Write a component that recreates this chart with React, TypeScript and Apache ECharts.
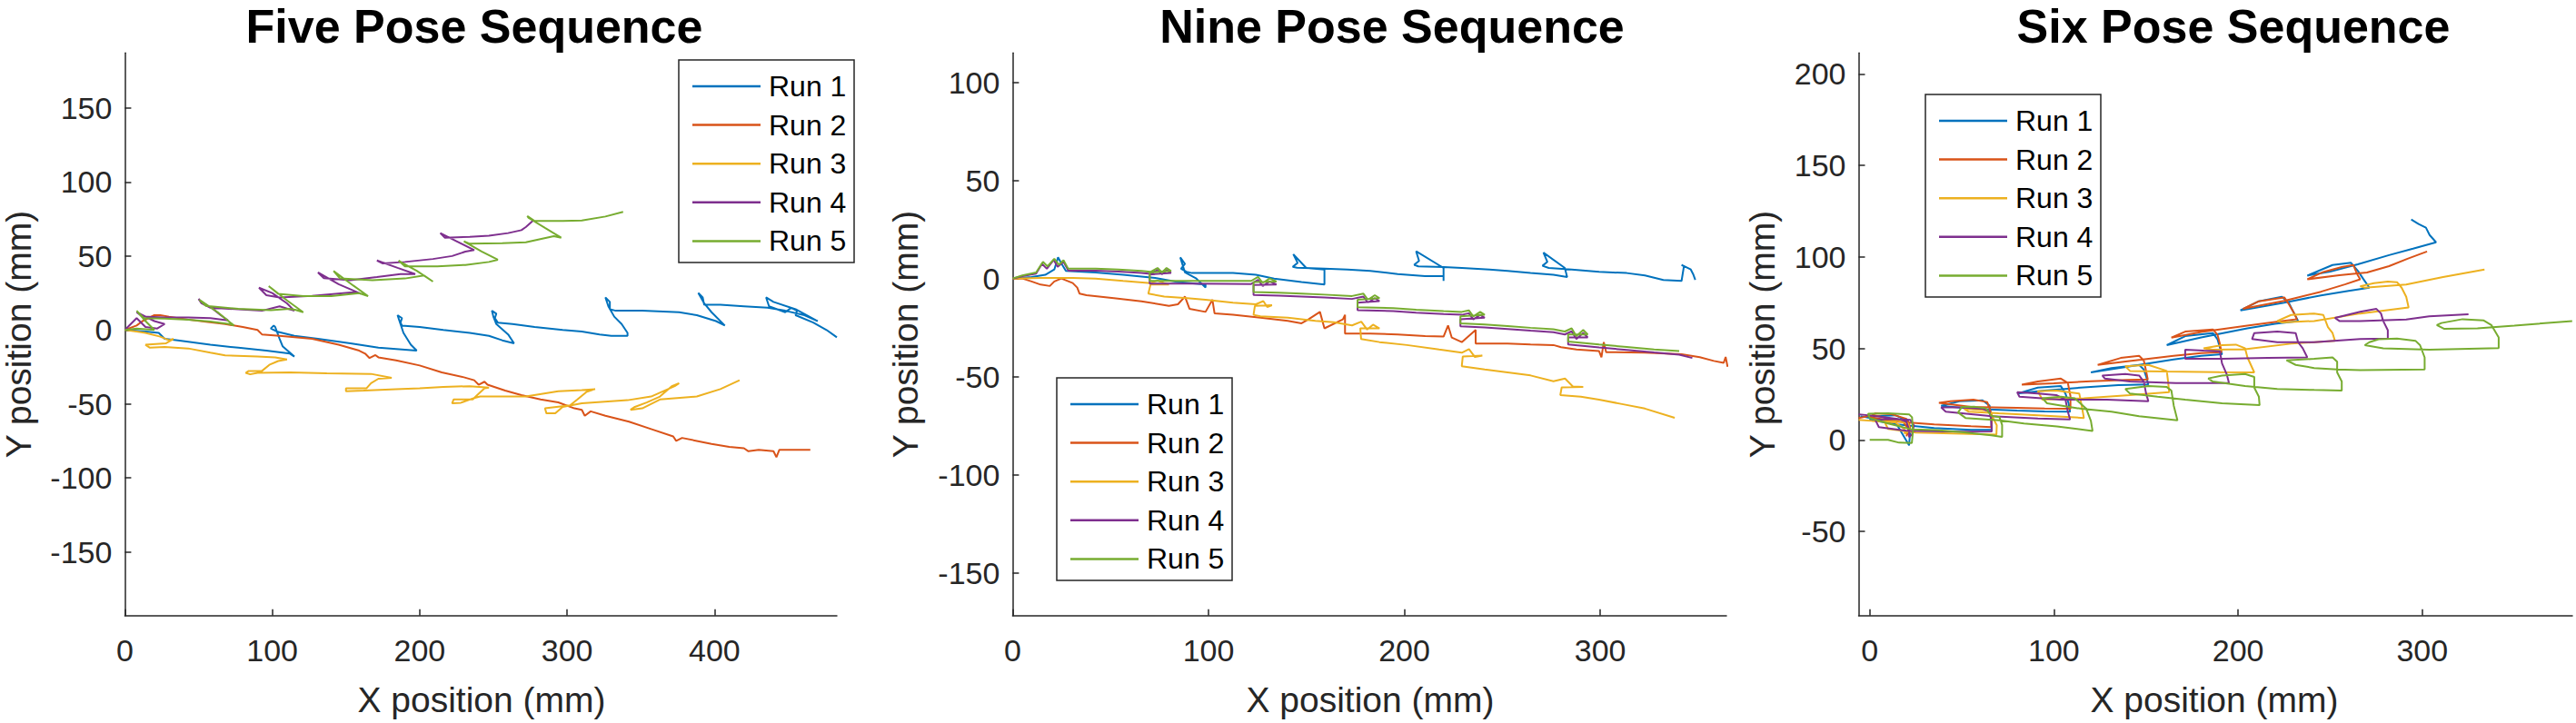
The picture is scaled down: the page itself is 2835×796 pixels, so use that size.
import React, { useEffect, useRef } from 'react';
import * as echarts from 'echarts';

// ---------------- data ----------------
const RUN_NAMES = ['Run 1', 'Run 2', 'Run 3', 'Run 4', 'Run 5'];
const RUN_COLORS = ['#0072BD', '#D95319', '#EDB120', '#7E2F8E', '#77AC30'];
const PANEL_TITLES = ['Five Pose Sequence', 'Nine Pose Sequence', 'Six Pose Sequence'];
const X_NAME = 'X position (mm)';
const Y_NAME = 'Y position (mm)';

const FIVE_X_TICKS = [0, 100, 200, 300, 400];
const FIVE_Y_TICKS = [-150, -100, -50, 0, 50, 100, 150];
const NINE_X_TICKS = [0, 100, 200, 300];
const NINE_Y_TICKS = [-150, -100, -50, 0, 50, 100];
const SIX_X_TICKS = [0, 100, 200, 300];
const SIX_Y_TICKS = [-50, 0, 50, 100, 150, 200];

const FIVE_X_RANGE = [0, 483];
const FIVE_Y_RANGE = [-193.1, 187.3];
const NINE_X_RANGE = [0, 364.4];
const NINE_Y_RANGE = [-171.8, 115];
const SIX_X_RANGE = [-6, 381.5];
const SIX_Y_RANGE = [-96, 211.5];

const FIVE_RUN1 = [
  [0, 0], [14, -1], [23, -2], [27, -6], [36, -7], [58, -10], [77, -12], [96, -14], [112, -16], [115, -18],
  [107, -11], [105, -6], [102, 2], [101, 3], [99, 1], [103, -1], [115, -4], [131, -6], [153, -9], [172, -12], [198, -14],
  [194, -10], [189, -2], [186, 7], [185, 10], [188, 8], [187, 5], [188, 3], [200, 2], [216, 0], [234, -2], [247, -4], [256, -7], [264, -9],
  [260, -3], [252, 4], [250, 9], [249, 13], [252, 11], [251, 8], [253, 5], [263, 4], [278, 2], [297, 0], [310, -1], [322, -3], [330, -4], [341, -4],
  [341, -2], [337, 4], [332, 9], [328, 16], [326, 22], [329, 19], [329, 14], [333, 13], [351, 13], [376, 12], [388, 10], [401, 6], [407, 3],
  [398, 12], [393, 18], [389, 25], [392, 22], [393, 17], [404, 17], [420, 16], [436, 15], [448, 13], [461, 10], [470, 6],
  [455, 14], [440, 19], [435, 22], [437, 16], [448, 12], [452, 15], [456, 13], [455, 10], [467, 5], [476, 0], [483, -5],
];
const FIVE_RUN2 = [
  [0, 0], [8, 3], [12, 6], [20, 10], [24, 10], [30, 9], [43, 7], [55, 5.5], [68, 4], [80, 2], [90, 0], [93, -3], [105, -4],
  [127, -6], [145, -10], [159, -14], [163, -16], [166, -19], [170, -17], [172, -18.5], [184, -20.5], [200, -24], [215, -28.7],
  [230, -32], [237, -34], [240, -37], [244, -35], [246, -37], [258, -41], [269, -44], [282, -47], [294, -49], [305, -53],
  [310, -54], [312, -58], [316, -55], [326, -58], [342, -62], [357, -67], [372, -72], [374, -75], [378, -73], [388, -75],
  [398, -77], [410, -79], [420, -80], [423, -82], [430, -81], [440, -82], [442, -86], [444, -81], [455, -81], [465, -81],
];
const FIVE_RUN3 = [
  [0, 0], [8, -1], [14, -2], [24, -4.5], [30, -7], [33, -6], [28, -9], [14, -10], [17, -12], [27, -11.5], [43, -12.5],
  [58, -15.4], [68, -17.2], [90, -17.9], [102, -18.5], [110, -20], [104, -21], [98, -23.6], [93, -27.7], [84, -27.7],
  [82, -29], [85, -30], [90, -29], [112, -28.7], [137, -29.3], [167, -29.7], [181, -32.4], [172, -33], [167, -36],
  [164, -39.4], [150, -39.4], [150, -41.4], [162, -41], [184, -40], [200, -39.4], [216, -38.5], [234, -38], [247, -39],
  [244, -39.4], [239, -44], [236, -47], [223, -47], [222, -49.6], [228, -49.2], [237, -46], [241, -45], [272, -45],
  [294, -41.4], [310, -40.6], [319, -40], [313, -42], [307, -47], [302, -51], [285, -53], [286, -56.4], [292, -56.4],
  [297, -52], [310, -49.6], [341, -47.5], [357, -45], [373, -38], [376, -36], [371, -38], [363, -45], [354, -49],
  [346, -52], [343, -54], [351, -53], [363, -47], [388, -45], [404, -40], [417, -34],
];
const FIVE_RUN4 = [
  [0, 0], [8, 8], [14, 2], [22, 1], [27, 4], [20, 6], [8, 12], [12, 9], [27, 8.5], [43, 8.5], [58, 8], [70, 6.5],
  [65, 10], [60, 14], [52, 19], [50, 21], [52, 18], [58, 15], [77, 14], [93, 13], [105, 16], [115, 13], [110, 18],
  [100, 25], [91, 28.6], [96, 23.5], [105, 22], [127, 23], [143, 24.5], [155, 25.5], [160, 24.5], [145, 31], [131, 38.9],
  [135, 35], [153, 33.7], [171, 35.8], [187, 37.8], [197, 37.8], [185, 42], [171, 47], [175, 45], [190, 46], [209, 48],
  [222, 50], [231, 53], [237, 54], [225, 60], [214, 65.5], [217, 62.4], [234, 63], [247, 63.8], [260, 65.5], [269, 67.5],
  [272, 69.6], [277, 74],
];
const FIVE_RUN5 = [
  [0, 0], [8, 1], [20, 0], [14, 6], [8, 13], [10, 11], [13, 8], [27, 7.7], [43, 7], [58, 5.7], [71, 4], [74, 3], [63, 12],
  [52, 19.4], [50.5, 20.4], [55, 16.3], [77, 14.3], [99, 13.3], [112, 14.3], [116, 13.5], [121, 12], [110, 20], [99, 28.6],
  [97.6, 29.6], [104, 24.5], [121, 22.9], [140, 22.9], [159, 24.9], [165, 22.9], [155, 30], [143, 38.9], [141.6, 39.9],
  [146, 34.8], [168, 33.7], [190, 34.8], [203, 36.8], [209, 32.7], [198, 40], [187, 46], [185.7, 47], [190, 43], [212, 43],
  [231, 44], [247, 46], [253, 47.5], [242, 53], [231, 59.3], [230, 60], [234, 58.3], [256, 58.7], [272, 59.3], [291, 63.4],
  [296, 62.4], [285, 69], [274, 75.7], [273, 77], [278, 73.7], [297, 73.7], [310, 74], [326, 76.7], [338, 79.8],
];

const NINE_RUN1 = [
  [0, 0], [9.7, 0.8], [16.7, 1.9], [21.3, 4.6], [23.2, 10.8], [24.9, 7.7], [27.2, 3.9], [42.4, 3.1], [56.4, 1.9],
  [72.8, 0.3], [84.4, -1.8], [98.5, -3.1], [98.5, -4.6], [93.8, 0], [88, 3.1], [85.6, 10.8], [88, 7.5], [86, 5],
  [88.7, 3.5], [91.5, 2.8], [112.5, 2.8], [124.2, 1.9], [133.5, 0], [147.5, -1.8], [159.2, -3.1], [159.2, 4.6],
  [149.9, 5.4], [143.3, 12.4], [145.5, 8], [143, 6], [145.2, 5.5], [159.2, 5], [170.9, 4.6], [182.6, 3.9], [196.6, 2.3],
  [210.6, 1.2], [220, 1.2], [220, -1.2], [220, 5.4], [206, 13.9], [207.5, 9], [205, 7], [207.1, 6.2], [220, 5.9],
  [229.3, 5.4], [243.4, 4.6], [252.7, 3.9], [264.4, 2.8], [276.1, 1.9], [283.1, 0.8], [281.9, 5.4], [271, 13.2],
  [273, 8.5], [270.5, 6.5], [273.7, 5.4], [285.4, 4.6], [299.4, 3.4], [313.5, 2.8], [322.8, 1.6], [332.2, -0.7],
  [341.5, -1.2], [342.7, 6.2], [341.5, 7], [346.2, 4.6], [347.4, 2.3], [348.5, -0.7],
];
const NINE_RUN2 = [
  [0, 0], [5, 0], [9.7, -1.5], [14.3, -3.1], [19, -3.8], [21.3, -1.5], [24.9, 0], [30.7, -2.3], [33, -4.6], [34.2, -7.7],
  [37.7, -8.5], [51.7, -10], [65.8, -11.6], [79.8, -13.9], [84.4, -13.1], [88, -9.2], [90.3, -15.4], [98.5, -17],
  [102, -10.8], [103.1, -17.7], [112.5, -18.5], [126.5, -20], [140.5, -21.6], [147.5, -22.8], [151, -20.8], [156.9, -17],
  [159.2, -25.4], [168.6, -20.8], [169.7, -18.5], [169.7, -28.1], [182.6, -28.1], [196.6, -28.5], [210.6, -29.3],
  [220, -29.6], [222.3, -23.9], [224.2, -30.1], [229.3, -32.4], [236.4, -26.2], [236.4, -33.2], [252.7, -33.2],
  [264.4, -33.6], [276.1, -33.9], [280, -35], [287.8, -36.2], [299.4, -37], [300.6, -40.1], [301.8, -32.4], [303, -37.5],
  [322.8, -37.8], [341.5, -38.6], [350.8, -40.1], [358, -42], [363, -43], [364, -40], [365, -45],
];
const NINE_RUN3 = [
  [0, 0], [14.3, 0.3], [30.7, 0.3], [42.4, 0], [56.4, -1.2], [70.4, -2.3], [74, -1], [77.4, -2.3], [79.8, -3.1],
  [70.4, -3.1], [69.3, -7.7], [77.4, -9.2], [89.1, -10], [98.5, -10.8], [112.5, -12.3], [124.2, -13.1], [128, -11.5],
  [130, -14.5], [132.4, -13.6], [123.7, -13.9], [123, -18.5], [126.5, -19.3], [140.5, -20], [154.6, -21.6],
  [163.9, -22.3], [173.3, -23.9], [178, -22], [181, -26], [184, -23.5], [187.3, -25.4], [177.5, -25.4], [177.9, -30.8],
  [187.3, -32.4], [201.3, -33.9], [217.7, -36.2], [229.3, -37.8], [233, -36], [236, -40], [239.8, -39.3], [229.8, -39.8],
  [229.3, -44.7], [241, -46.3], [252.7, -47.8], [264.4, -49.4], [276.1, -52.4], [282, -51], [286, -55], [291.3, -55.2],
  [280.3, -55.5], [279.6, -59.4], [290.1, -60.2], [299.4, -61.7], [311.1, -64], [322.8, -66.3], [338, -71],
];
const NINE_RUN4 = [
  [0, 0], [5, 1.2], [12, 2.5], [15, 7.5], [17.5, 5], [21, 9.5], [23, 6], [26, 8.5], [28.5, 4], [42.4, 4], [54.1, 3.6],
  [65.8, 2.9], [70.4, 2.4], [74, 4.4], [76.3, 2.1], [78.6, 4.4], [80.9, 2.9], [70, 2.1], [70, -2.6], [89.1, -2.6],
  [107.8, -2.7], [121.8, -2.8], [125.3, -0.7], [127.7, -3.8], [131.2, -1.5], [134.7, -3], [123, -3.3], [123, -8.4],
  [135.9, -8.7], [147.5, -9.2], [159.2, -9.7], [173.3, -10.4], [179.1, -9.2], [181.4, -12.3], [184.9, -10],
  [187.3, -11.5], [176.1, -12.3], [176.1, -16.1], [194.3, -16.6], [206, -17.4], [220, -18.1], [229.3, -18.5],
  [232.9, -17.7], [235.2, -20.8], [238.7, -18.5], [241, -20], [228.6, -20.8], [228.6, -24.3], [241, -24.9],
  [252.7, -25.7], [264.4, -26.6], [276.1, -27.4], [281.9, -28.5], [285.4, -26.9], [287.8, -30.8], [291.3, -27.7],
  [293.6, -30], [283.6, -30], [283.6, -33.6], [299.4, -35.1], [313.5, -36.4], [327.5, -37.7], [340.3, -38.8], [347, -40.5],
];
const NINE_RUN5 = [
  [0, 0], [5, 1.6], [12, 3.1], [15.5, 8.5], [17.8, 6.2], [21.3, 10.1], [23.7, 7], [26, 9.3], [28.4, 5], [42.4, 5],
  [54.1, 4.6], [65.8, 3.9], [70.4, 3.4], [74, 5.4], [76.3, 3.1], [78.6, 5.4], [80.9, 3.9], [70, 3.1], [70, -1.2],
  [89.1, -1.2], [107.8, -1.2], [121.8, -1.2], [125.3, 0.8], [127.7, -2.3], [131.2, 0], [134.7, -1.5], [123, -1.8],
  [123, -6.9], [135.9, -7.2], [147.5, -7.7], [159.2, -8.2], [173.3, -8.9], [179.1, -7.7], [181.4, -10.8], [184.9, -8.5],
  [187.3, -10], [176.1, -10.8], [176.1, -14.6], [194.3, -15.1], [206, -15.9], [220, -16.6], [229.3, -17],
  [232.9, -16.2], [235.2, -19.3], [238.7, -17], [241, -18.5], [228.6, -19.3], [228.6, -22.8], [241, -23.4],
  [252.7, -24.2], [264.4, -25.1], [276.1, -25.9], [281.9, -27], [285.4, -25.4], [287.8, -29.3], [291.3, -26.2],
  [293.6, -28.5], [283.6, -28.5], [283.6, -32.1], [299.4, -33.6], [313.5, -34.9], [327.5, -36.2], [340.3, -37],
];

const SIX_RUN1 = [
  [-5, 13], [5, 11], [15, 8], [21.4, -3], [22, 5], [21, 10], [14, 13.5], [3, 13], [0, 11],
  [15, 8.5], [35, 6.5], [55, 5.5], [66.3, 5.5], [66, 12], [65.1, 18.7], [61.3, 21.6], [48.8, 21.1], [38.8, 18.7],
  [55, 17], [80, 16], [95, 15.5], [108.8, 15.4], [108, 20], [106.3, 25.3], [103.8, 29.4], [91.3, 28.6], [80.1, 25.3],
  [95, 27], [120, 29], [135, 30], [151.3, 30.3], [150, 35], [148.8, 38.5], [146.3, 41], [131.3, 39.3], [120.1, 36.9],
  [140, 40], [165, 44], [180, 46], [191.3, 46.8], [190, 51], [188.8, 55.1], [186.3, 58.4], [171.3, 56.7], [161.3, 51.8],
  [180, 56], [205, 61], [220, 63.5], [232.6, 65], [230, 70], [227.6, 74.9], [223.8, 78.2], [211.3, 75.8], [201.3, 70.8],
  [225, 75], [245, 79], [260, 81.5], [271.3, 83.2], [268, 88], [265.1, 92.3], [261.3, 96.8], [251.3, 95.6], [237.6, 89.8],
  [250, 92], [265, 96], [282, 101], [295, 104.5], [307.5, 108], [304, 112], [302, 116], [298, 118], [294, 120.5],
];
const SIX_RUN2 = [
  [-6, 12], [2, 13.5], [10, 12], [18, 10], [21, 6], [20, 2], [22, 7], [20, 11.5], [12, 14], [3, 14.5], [0, 12.5],
  [15, 10], [35, 8.5], [55, 7.5], [66, 7], [66.5, 13], [63.8, 20.7], [56.3, 22], [43.8, 21.1], [37.6, 20.3],
  [55, 18], [80, 17.5], [95, 17.2], [109, 17], [109, 24], [107.6, 31.1], [103.8, 33.5], [91.3, 31.9], [82.6, 30.2],
  [100, 31], [120, 32], [140, 32.8], [151, 33], [150, 38], [148.8, 43.5], [146.3, 46], [136.3, 44.8], [123.8, 41],
  [140, 43], [165, 46], [180, 47.5], [191, 48], [190, 53], [188.8, 57.6], [186.3, 60.4], [171.3, 59.2], [163.8, 55.9],
  [180, 59], [205, 62.5], [220, 64.5], [232, 66], [230, 70], [227.6, 74.1], [225.1, 77.9], [211.3, 75.8], [202.6, 71.6],
  [225, 76], [245, 81], [258, 85], [266.3, 87.8], [265, 90], [264.3, 91.5], [262.6, 95.6], [256.3, 94.5], [246.3, 91.8],
  [237.6, 87.8], [255, 90], [270, 91.5], [282, 95], [292, 99], [302.6, 103],
];
const SIX_RUN3 = [
  [-6, 11], [1.3, 10.4], [13.8, 9.6], [18.8, 6], [19, 3.5], [22, 5], [21, 9], [15, 10.5], [8, 10],
  [10, 6], [25, 4], [45, 3.5], [68.8, 2.9], [69, 8], [66, 14], [63.8, 16.2], [51.3, 17],
  [53.8, 15.4], [70, 14.5], [91.3, 13.4], [116.3, 12], [115.1, 18.7], [113.8, 25.3], [101.3, 27], [91.3, 26.6],
  [93.8, 22], [116.3, 22.8], [141.3, 24.5], [162.6, 26.1], [162, 32], [161.3, 37.7], [151.3, 41], [138.8, 40.2],
  [141.3, 37.7], [170, 37.3], [190, 37], [208.8, 36.9], [205.1, 45.1], [203.8, 50.1], [198.8, 52.1], [191.3, 51.8], [181.3, 50.1],
  [186.3, 49.3], [203.8, 49.6], [228.8, 52.6], [252.6, 54.2], [251.3, 58.4], [248.8, 61.7], [246.3, 68.3], [241.3, 69.1],
  [228.8, 68.3], [221.3, 65], [223.8, 64.2], [241.3, 65], [266.3, 69.1], [292.6, 72.4], [291.3, 78.2], [288.8, 83.2],
  [286.3, 86.2], [281.3, 86.5], [273.8, 85.7], [266.3, 84], [268.8, 83.2], [291.3, 84.9], [311.3, 89], [333.8, 93.1],
];
const SIX_RUN4 = [
  [-6, 14], [1.5, 13.2], [15.4, 11.5], [19.9, 9.9], [21.4, 5.7], [21.4, 1.5], [23, 3], [24, 8], [22, 11], [10, 11.5], [3, 11],
  [5, 7], [20, 5], [40, 4.6], [55, 4.5], [66.3, 4.6], [66, 10], [65.1, 15.4], [61.3, 17], [48.8, 17.8], [38.8, 17.8],
  [41.3, 15.4], [66.3, 12.9], [91.3, 11.7], [108.8, 11.2], [107.6, 15.4], [106.3, 22], [101.3, 24.5], [91.3, 25.3], [80.1, 26.1],
  [81.3, 23.6], [103.8, 22], [128.8, 22], [151.3, 21.1], [150.1, 25.3], [148.8, 31.9], [146.3, 35.2], [138.8, 36], [126.3, 35.2],
  [127.6, 33.6], [141.3, 31.9], [166.3, 31.1], [195.1, 31.1], [193.8, 36], [191.3, 41.8], [190.1, 48.5], [181.3, 48.8], [171.3, 49.3],
  [171.3, 44.3], [191.3, 44.3], [216.3, 44.8], [237.6, 45.1], [235.1, 50.1], [232.6, 53.4], [231.3, 58.4], [221.3, 59.2],
  [208.8, 58.4], [207.6, 55.1], [221.3, 53.4], [241.3, 53.4], [266.3, 55.1], [281.3, 55.4], [281.3, 60], [278.8, 65],
  [277.6, 69.1], [275.1, 71.6], [266.3, 70], [252.6, 66.7], [255, 65], [266.3, 65], [291.3, 65.8], [303.8, 67.5], [325.1, 68.7],
];
const SIX_RUN5 = [
  [0, 0], [10, 0], [16, -1.5], [22.9, -1.7], [23.5, 5], [23, 12.4], [21.4, 14], [10, 14.5], [-0.9, 14.3],
  [0, 12], [10, 9], [23, 5.7], [36.3, 5.4], [51.1, 4.1], [66, 2.5], [71.9, 1.6], [71.9, 8.2], [70.5, 12.4], [66, 13.2],
  [63, 17.3], [57.1, 18.1], [50, 18], [48, 15], [52, 12], [70.5, 10.7], [83.8, 9], [101.7, 7.4], [121, 4.9],
  [120.1, 10.4], [117.6, 17], [111.3, 22.8], [103.8, 23.6], [93.8, 22.8], [96.3, 20], [115, 17], [131.3, 15.4],
  [146.3, 12.9], [167.1, 10.7], [165.1, 18.7], [163.8, 27], [161.3, 28.9], [151.3, 29.4], [138.8, 27.8],
  [141.3, 25.3], [156.3, 23.6], [171.3, 22], [191.3, 20], [211.7, 19], [211.3, 23.6], [208.8, 28.6], [208.8, 34.4],
  [203.8, 36], [191.3, 35.2], [183.8, 33.6], [186.3, 31.9], [203.8, 29.4], [221.3, 27.8], [241.3, 27.3], [256.3, 27],
  [256.3, 31.9], [253.8, 36.9], [253.8, 42.7], [251.3, 45.1], [241.3, 44.3], [226.3, 43.5], [231.3, 41], [241.3, 39.3],
  [253.8, 38.5], [266.3, 38.2], [301.3, 38.5], [301.3, 45.1], [298.8, 51.8], [296.3, 54.2], [286.3, 55.4], [276.3, 55],
  [271.3, 53.4], [268.8, 51.8], [278.8, 50.1], [303.8, 49.3], [341.5, 50.2], [341.5, 56], [337.5, 62.8], [333.4, 65.3],
  [321.9, 66], [310.4, 63.9], [307.9, 62.8], [312, 60.7], [330, 61], [350, 62.5], [381.4, 65],
];

const PANEL_RUNS = [
  [FIVE_RUN1, FIVE_RUN2, FIVE_RUN3, FIVE_RUN4, FIVE_RUN5],
  [NINE_RUN1, NINE_RUN2, NINE_RUN3, NINE_RUN4, NINE_RUN5],
  [SIX_RUN1, SIX_RUN2, SIX_RUN3, SIX_RUN4, SIX_RUN5],
];
const PANEL_X_TICKS = [FIVE_X_TICKS, NINE_X_TICKS, SIX_X_TICKS];
const PANEL_Y_TICKS = [FIVE_Y_TICKS, NINE_Y_TICKS, SIX_Y_TICKS];
const PANEL_X_RANGES = [FIVE_X_RANGE, NINE_X_RANGE, SIX_X_RANGE];
const PANEL_Y_RANGES = [FIVE_Y_RANGE, NINE_Y_RANGE, SIX_Y_RANGE];

// ---------------- layout / style ----------------
const W = 2835;
const H = 796;
const FONT = '"Liberation Sans", Arial, Helvetica, sans-serif';
const AX = '#262626';
const GRIDS = [
  { left: 137.4, top: 58.3, width: 783.6, height: 619.4 },
  { left: 1114.4, top: 58.3, width: 785.6, height: 619.4 },
  { left: 2045.5, top: 58.3, width: 785.5, height: 619.4 },
];
const TITLE_X = [522, 1532, 2458];
const XNAME_X = [530, 1508, 2437];
const YNAME_X = [20, 996, 1939];
const LEGEND_POS = [
  { left: 747, top: 66 },
  { left: 1163, top: 416 },
  { left: 2119, top: 104 },
];

function buildOption() {
  const xAxis: any[] = [];
  const yAxis: any[] = [];
  const series: any[] = [];
  const graphic: any[] = [];

  for (let p = 0; p < 3; p++) {
    xAxis.push({
      type: 'value', gridIndex: p,
      min: PANEL_X_RANGES[p][0], max: PANEL_X_RANGES[p][1],
      axisLine: { show: true, onZero: false, lineStyle: { color: AX, width: 1.5 } },
      axisTick: { show: true, inside: true, length: 7, customValues: PANEL_X_TICKS[p], lineStyle: { color: AX, width: 1.5 } },
      axisLabel: { show: true, customValues: PANEL_X_TICKS[p], margin: 21, fontSize: 34, fontFamily: FONT, color: AX },
      splitLine: { show: false },
    });
    yAxis.push({
      type: 'value', gridIndex: p,
      min: PANEL_Y_RANGES[p][0], max: PANEL_Y_RANGES[p][1],
      axisLine: { show: true, onZero: false, lineStyle: { color: AX, width: 1.5 } },
      axisTick: { show: true, inside: true, length: 7, customValues: PANEL_Y_TICKS[p], lineStyle: { color: AX, width: 1.5 } },
      axisLabel: { show: true, customValues: PANEL_Y_TICKS[p], margin: 14, fontSize: 34, fontFamily: FONT, color: AX },
      splitLine: { show: false },
    });
    PANEL_RUNS[p].forEach((run, r) => {
      series.push({
        type: 'line', name: RUN_NAMES[r], xAxisIndex: p, yAxisIndex: p,
        data: run, showSymbol: false, symbol: 'none', silent: true,
        lineStyle: { width: 2, color: RUN_COLORS[r] }, itemStyle: { color: RUN_COLORS[r] },
      });
    });

    // title
    graphic.push({
      type: 'text', x: TITLE_X[p], y: 29, z: 50,
      style: {
        text: PANEL_TITLES[p], fontSize: 52, lineHeight: 48, fontWeight: 'bold', fontFamily: FONT, fill: '#000',
        textAlign: 'center', align: 'center', textVerticalAlign: 'middle', verticalAlign: 'middle',
      },
    });
    // x name
    graphic.push({
      type: 'text', x: XNAME_X[p], y: 770, z: 50,
      style: {
        text: X_NAME, fontSize: 39, fontFamily: FONT, fill: AX,
        textAlign: 'center', align: 'center', textVerticalAlign: 'middle', verticalAlign: 'middle',
      },
    });
    // y name
    graphic.push({
      type: 'text', x: YNAME_X[p], y: 368, rotation: Math.PI / 2, z: 50,
      style: {
        text: Y_NAME, fontSize: 39, fontFamily: FONT, fill: AX,
        textAlign: 'center', align: 'center', textVerticalAlign: 'middle', verticalAlign: 'middle',
      },
    });
    // legend
    const L = LEGEND_POS[p].left;
    const T = LEGEND_POS[p].top;
    graphic.push({
      type: 'rect', z: 60,
      shape: { x: L, y: T, width: 193, height: 223 },
      style: { fill: '#fff', stroke: AX, lineWidth: 1.5 },
    });
    RUN_NAMES.forEach((name, r) => {
      const yc = T + 29 + 42.6 * r;
      graphic.push({
        type: 'line', z: 61,
        shape: { x1: L + 15, y1: yc, x2: L + 90, y2: yc },
        style: { stroke: RUN_COLORS[r], lineWidth: 2.5 },
      });
      graphic.push({
        type: 'text', x: L + 99, y: yc, z: 61,
        style: {
          text: name, fontSize: 32, fontFamily: FONT, fill: '#000',
          textAlign: 'left', align: 'left', textVerticalAlign: 'middle', verticalAlign: 'middle',
        },
      });
    });
  }

  return {
    animation: false,
    backgroundColor: '#ffffff',
    grid: GRIDS.map((g) => ({ ...g, containLabel: false })),
    xAxis,
    yAxis,
    series,
    graphic: { elements: graphic },
  };
}

export default function App() {
  const ref = useRef<HTMLDivElement>(null);
  useEffect(() => {
    if (!ref.current) return;
    const chart = echarts.init(ref.current, undefined, { renderer: 'svg', width: W, height: H });
    chart.setOption(buildOption());
    return () => chart.dispose();
  }, []);
  return (
    <div
      ref={ref}
      style={{ position: 'absolute', left: 0, top: 0, width: W, height: H, background: '#fff' }}
    />
  );
}
